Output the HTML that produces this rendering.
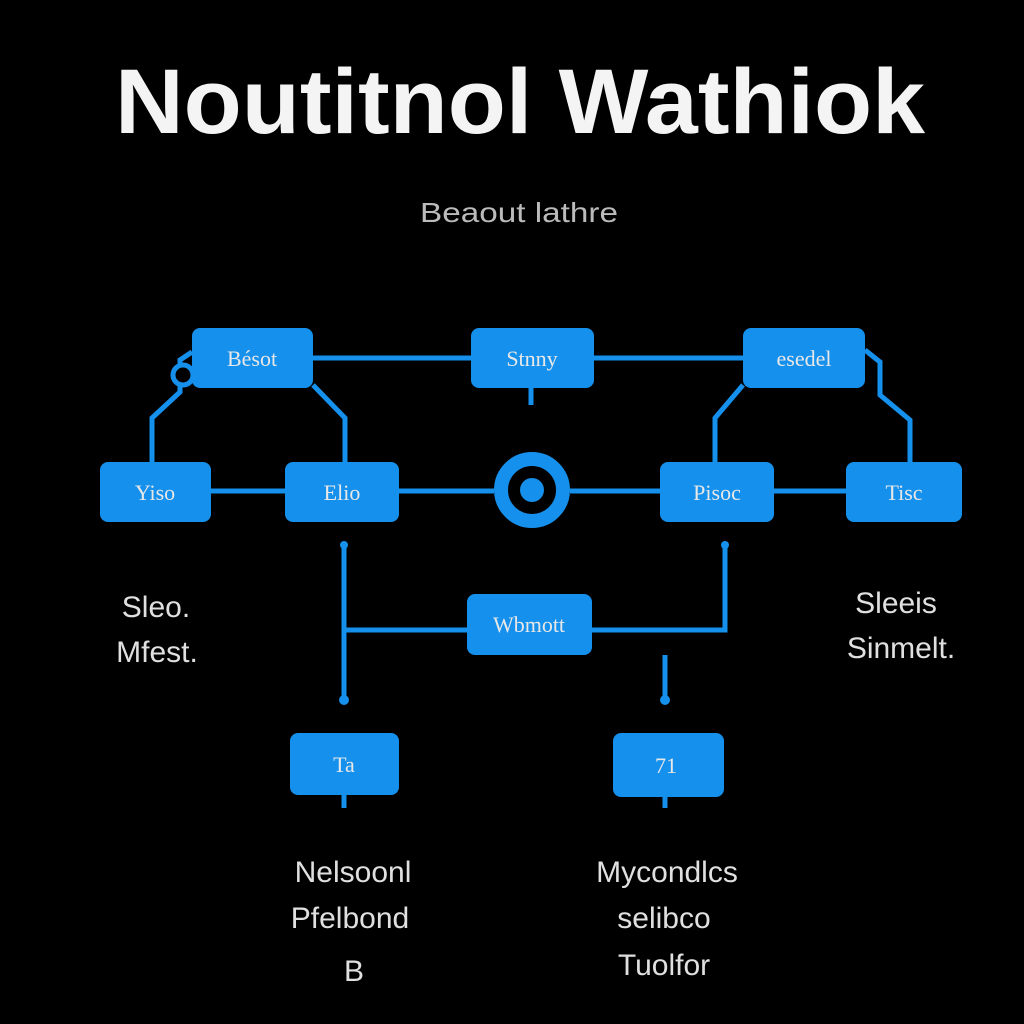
<!DOCTYPE html>
<html><head><meta charset="utf-8"><style>
body{margin:0;background:#000;width:1024px;height:1024px;overflow:hidden;font-family:"Liberation Sans",sans-serif}
svg{display:block}
.bx{fill:#1590ec}
.ln{stroke:#1590ec;stroke-width:5;fill:none}
.bt{fill:#e8e8e8;font-size:22px;text-anchor:middle;font-family:"Liberation Serif",serif}
.lb{fill:#e0e0e0;font-size:30px;text-anchor:middle}
</style></head><body>
<svg width="1024" height="1024" viewBox="0 0 1024 1024">
<text x="520" y="133" fill="#f4f4f4" font-size="92" font-weight="bold" text-anchor="middle" textLength="810" lengthAdjust="spacingAndGlyphs">Noutitnol Wathiok</text>
<text x="519" y="222" fill="#bbb" font-size="28" text-anchor="middle" textLength="198" lengthAdjust="spacingAndGlyphs">Beaout lathre</text>
<g>
<line class="ln" x1="313" y1="358" x2="471" y2="358"/>
<line class="ln" x1="594" y1="358" x2="743" y2="358"/>
<line class="ln" x1="211" y1="491" x2="285" y2="491"/>
<line class="ln" x1="399" y1="491" x2="494" y2="491"/>
<line class="ln" x1="570" y1="491" x2="660" y2="491"/>
<line class="ln" x1="774" y1="491" x2="846" y2="491"/>
<polyline class="ln" points="192,352 180,360 180,392 152,418 152,462"/>
<polyline class="ln" points="313,385 345,418 345,462"/>
<polyline class="ln" points="743,385 715,418 715,462"/>
<polyline class="ln" points="865,350 880,362 880,395 910,420 910,462"/>
<line class="ln" x1="531" y1="388" x2="531" y2="405"/>
<polyline class="ln" points="344,545 344,700"/>
<line class="ln" x1="344" y1="630" x2="467" y2="630"/>
<polyline class="ln" points="592,630 725,630 725,545"/>
<line class="ln" x1="665" y1="655" x2="665" y2="700"/>
<line class="ln" x1="344" y1="795" x2="344" y2="808"/>
<line class="ln" x1="665" y1="797" x2="665" y2="808"/>
<circle cx="183" cy="375" r="10" fill="#000" stroke="#1590ec" stroke-width="5"/>
<circle cx="344" cy="700" r="5" fill="#1590ec"/><circle cx="665" cy="700" r="5" fill="#1590ec"/>
<circle cx="344" cy="545" r="4" fill="#1590ec"/><circle cx="725" cy="545" r="4" fill="#1590ec"/>
</g>
<g><circle cx="532" cy="490" r="31" fill="none" stroke="#1590ec" stroke-width="14"/><circle cx="532" cy="490" r="12" fill="#1590ec"/></g>
<g><rect class="bx" x="192" y="328" width="121" height="60" rx="8"/><text class="bt" x="252" y="366">Bésot</text></g>
<g><rect class="bx" x="471" y="328" width="123" height="60" rx="8"/><text class="bt" x="532" y="366">Stnny</text></g>
<g><rect class="bx" x="743" y="328" width="122" height="60" rx="8"/><text class="bt" x="804" y="366">esedel</text></g>
<g><rect class="bx" x="100" y="462" width="111" height="60" rx="8"/><text class="bt" x="155" y="500">Yiso</text></g>
<g><rect class="bx" x="285" y="462" width="114" height="60" rx="8"/><text class="bt" x="342" y="500">Elio</text></g>
<g><rect class="bx" x="660" y="462" width="114" height="60" rx="8"/><text class="bt" x="717" y="500">Pisoc</text></g>
<g><rect class="bx" x="846" y="462" width="116" height="60" rx="8"/><text class="bt" x="904" y="500">Tisc</text></g>
<g><rect class="bx" x="467" y="594" width="125" height="61" rx="8"/><text class="bt" x="529" y="632">Wbmott</text></g>
<g><rect class="bx" x="290" y="733" width="109" height="62" rx="8"/><text class="bt" x="344" y="772">Ta</text></g>
<g><rect class="bx" x="613" y="733" width="111" height="64" rx="8"/><text class="bt" x="666" y="773">71</text></g>
<g><text class="lb" x="156" y="617">Sleo.</text><text class="lb" x="157" y="662">Mfest.</text></g>
<g><text class="lb" x="896" y="613">Sleeis</text><text class="lb" x="901" y="658">Sinmelt.</text></g>
<g><text class="lb" x="353" y="882">Nelsoonl</text><text class="lb" x="350" y="928">Pfelbond</text><text class="lb" x="354" y="981">B</text></g>
<g><text class="lb" x="667" y="882">Mycondlcs</text><text class="lb" x="664" y="928">selibco</text><text class="lb" x="664" y="975">Tuolfor</text></g>
</svg>
</body></html>
